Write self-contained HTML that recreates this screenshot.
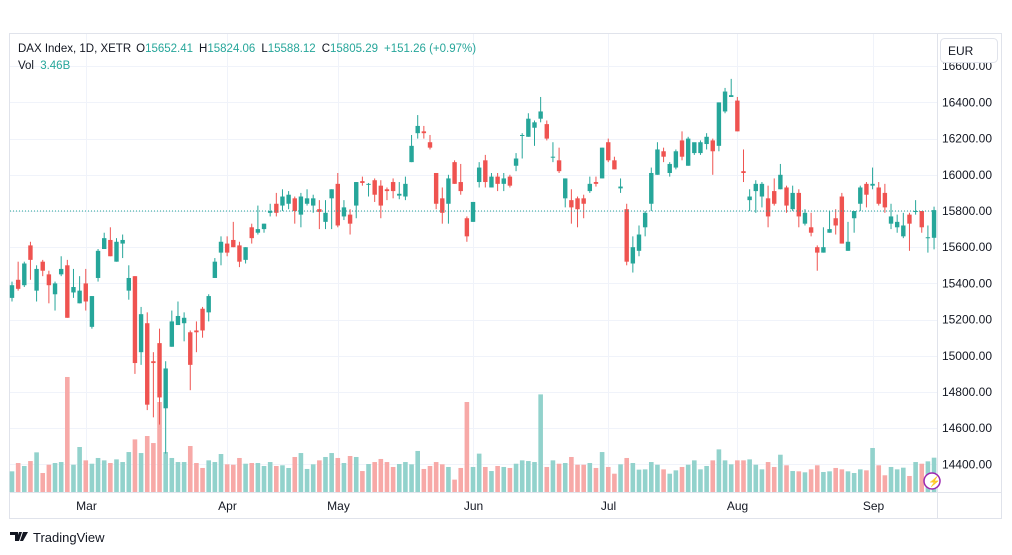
<!DOCTYPE html>
<html><head><meta charset="utf-8"><style>
body{margin:0;background:#fff;width:1012px;height:555px;overflow:hidden;font-family:"Liberation Sans",sans-serif;}
</style></head><body>
<svg id="chart" width="1012" height="555" xmlns="http://www.w3.org/2000/svg" style="position:absolute;left:0;top:0">
<rect x="9.5" y="33.5" width="992" height="485" fill="#fff" stroke="#e0e3eb"/>
<g id="grid"></g>
<g id="vol"></g>
<g id="candles"></g>
<line x1="10" x2="937" y1="211" y2="211" stroke="#26a69a" stroke-dasharray="1,2" stroke-width="1"/>
<line x1="937.5" x2="937.5" y1="34" y2="518" stroke="#e0e3eb"/>
<line x1="10" x2="1001" y1="492.5" y2="492.5" stroke="#e0e3eb"/>
<g id="yaxis"></g>
<g id="xaxis"></g>
<rect x="940.5" y="38.5" width="57" height="24" rx="4" fill="#fff" stroke="#e0e3eb"/>
<text x="948" y="55" font-size="12" fill="#131722">EUR</text>
<text x="18" y="52" font-size="11.5" fill="#131722">DAX Index, 1D, XETR<tspan dx="5">O</tspan><tspan fill="#26a69a">15652.41</tspan><tspan dx="6">H</tspan><tspan fill="#26a69a">15824.06</tspan><tspan dx="6">L</tspan><tspan fill="#26a69a">15588.12</tspan><tspan dx="6">C</tspan><tspan fill="#26a69a">15805.29</tspan><tspan dx="6" fill="#26a69a">+151.26 (+0.97%)</tspan></text>
<text x="18" y="69" font-size="11.5" fill="#131722">Vol <tspan dx="3" fill="#26a69a">3.46B</tspan></text>
<circle cx="932" cy="481" r="8" fill="#fff" stroke="#9c27b0" stroke-width="1.5"/>
<text x="928" y="485" font-size="10" fill="#9c27b0">⚡</text>
<g>
<path d="M10 532h8v9h-3v-6h-5z M19 532h3l-3 9h-3z M23 532h5l-5 9h-3z" fill="#131722"/>
<text x="33" y="542" font-size="13" fill="#131722">TradingView</text>
</g>
</svg>
<script>
const priceTicks=[14400,14600,14800,15000,15200,15400,15600,15800,16000,16200,16400,16600];
const monthLabels=["Mar","Apr","May","Jun","Jul","Aug","Sep"];
const monthIndex=[12,35,53,75,97,118,140];
const opens=[15320,15420,15390,15610,15360,15520,15450,15340,15450,15500,15350,15290,15400,15160,15430,15590,15640,15520,15620,15360,15440,15020,15180,14970,15070,14710,15050,15170,15180,15130,15140,15260,15240,15430,15570,15620,15640,15610,15530,15710,15680,15700,15790,15840,15830,15840,15870,15780,15840,15830,15810,15740,15870,15950,15770,15780,15830,15965,15945,15970,15940,15920,15960,15885,15880,16070,16230,16240,16180,16010,15870,15840,16070,15960,15760,15740,15960,16080,15930,15990,15950,15990,16050,16220,16210,16260,16310,16280,16095,16080,15870,15860,15870,15870,15910,15960,15980,16180,16080,15925,15810,15510,15580,15710,15840,16000,16130,16010,16040,16190,16050,16120,16120,16170,16190,16160,16350,16430,16410,16020,15860,15910,15880,15870,15910,15920,15930,15810,15900,15730,15710,15600,15570,15680,15760,15880,15580,15760,15840,15950,15940,15930,15900,15730,15710,15660,15780,15795,15800,15650,15652];
const highs=[15410,15520,15520,15630,15500,15530,15470,15410,15550,15530,15480,15440,15480,15330,15590,15680,15710,15650,15670,15500,15440,15270,15240,15020,15150,14970,15250,15300,15240,15140,15190,15270,15340,15540,15660,15660,15740,15630,15600,15730,15830,15730,15840,15900,15920,15910,15880,15900,15920,15890,15860,15860,15920,16010,15860,15810,15960,15990,15955,15980,15970,15930,15980,15960,15990,16220,16330,16270,16220,16010,15930,16000,16080,16060,15770,15850,16070,16110,16010,16010,16010,16000,16120,16230,16340,16300,16430,16300,16180,16150,15980,15920,15880,15890,15990,15990,16150,16200,16100,15980,15840,15660,15720,15800,16040,16180,16150,16070,16140,16240,16210,16170,16190,16230,16200,16400,16480,16530,16430,16140,15920,15970,15960,15940,15980,16060,15940,15940,15920,15810,15790,15610,15710,15800,15810,15900,15740,15800,15940,15960,16040,15960,15950,15840,15780,15790,15790,15860,15800,15720,15824];
const lows=[15300,15360,15380,15420,15300,15440,15290,15250,15440,15210,15320,15290,15250,15150,15410,15590,15550,15520,15540,15310,14900,14950,14700,14660,14620,14460,15050,15170,15080,14810,15020,15100,15190,15430,15500,15550,15600,15490,15510,15620,15670,15680,15770,15770,15800,15810,15730,15710,15830,15790,15700,15700,15700,15710,15750,15670,15760,15940,15880,15850,15760,15860,15870,15865,15860,16070,16200,16200,16140,15810,15730,15730,15950,15890,15630,15740,15930,15930,15930,15910,15910,15930,16020,16090,16210,16160,16290,16190,16070,16010,15820,15730,15710,15760,15900,15935,15980,16070,16030,15900,15500,15460,15550,15660,15800,16000,16070,15990,16030,16080,16050,16110,16110,16140,16000,16130,16340,16430,16240,15960,15800,15790,15820,15710,15830,15920,15790,15800,15710,15720,15660,15470,15570,15680,15670,15620,15580,15680,15800,15820,15920,15830,15790,15700,15680,15650,15580,15780,15680,15570,15588];
const closes=[15390,15370,15510,15530,15480,15470,15390,15400,15480,15210,15380,15360,15300,15330,15580,15650,15550,15630,15640,15430,14960,15230,14730,14960,14770,14930,15190,15220,15210,14950,15130,15140,15330,15520,15630,15570,15600,15520,15600,15650,15700,15730,15800,15790,15880,15890,15800,15880,15870,15870,15795,15790,15920,15720,15820,15730,15960,15955,15950,15890,15830,15910,15910,15895,15950,16160,16270,16230,16150,15840,15790,15980,15950,15910,15660,15850,16040,15960,15990,15950,15980,15940,16090,16220,16310,16290,16350,16200,16100,16020,15980,15820,15810,15840,15950,15950,16150,16080,16030,15935,15520,15600,15670,15790,16010,16140,16100,16060,16130,16100,16200,16180,16180,16210,16130,16400,16460,16440,16240,16010,15880,15950,15950,15770,15840,16000,15830,15900,15770,15790,15680,15570,15600,15700,15720,15620,15630,15800,15930,15890,15950,15840,15820,15770,15740,15720,15730,15800,15710,15655,15805];
const volumes=[2.09,2.93,2.63,3.13,4.01,1.92,2.76,2.93,3.03,11.63,2.76,4.55,3.20,2.86,3.44,3.20,2.93,3.30,3.03,4.04,5.32,3.94,5.66,4.95,9.10,4.04,3.44,3.03,3.03,4.65,2.93,2.43,3.20,3.03,3.84,2.80,2.76,3.44,2.86,2.93,2.93,2.63,3.03,2.63,2.70,2.43,3.54,3.94,2.33,2.80,3.20,3.54,3.94,3.44,2.93,3.64,3.54,2.12,2.83,3.03,3.34,3.03,2.53,2.83,3.03,2.80,4.15,2.33,2.63,3.03,2.80,2.53,1.25,2.43,9.10,2.53,3.88,2.53,2.12,2.63,2.53,2.43,2.86,3.20,3.13,3.03,9.87,2.53,3.20,2.86,2.93,3.54,2.76,2.76,2.93,2.43,4.04,2.53,1.85,2.80,3.44,2.93,2.26,2.29,3.03,2.76,2.29,1.85,2.19,2.53,2.76,3.20,2.29,2.63,3.20,4.31,3.20,2.80,3.20,3.20,3.30,2.76,2.29,3.03,2.53,3.77,2.70,2.12,2.09,1.99,2.29,2.70,2.02,2.09,2.43,2.29,2.09,1.92,2.29,2.19,4.45,2.70,1.69,2.53,2.29,2.46,1.62,3.03,2.86,3.10,3.47];

const NS="http://www.w3.org/2000/svg";
const x0=12, step=6.147;
function xScale(i){return x0+i*step;}
function yScale(p){return 211-(p-15800)*0.181;}
function vScale(v){return v*9.89;}
function mk(tag,attrs,parent){const e=document.createElementNS(NS,tag);for(const k in attrs)e.setAttribute(k,attrs[k]);parent.appendChild(e);return e;}
const grid=document.getElementById('grid'),yaxis=document.getElementById('yaxis'),xaxis=document.getElementById('xaxis');
const candles=document.getElementById('candles'),vol=document.getElementById('vol');
priceTicks.forEach(p=>{
  const y=Math.round(yScale(p))+0.5;
  const g=mk('line',{x1:10,x2:937,y1:y,y2:y,stroke:'#f0f3fa'},grid);
  
  
  const t=mk('text',{x:992,y:yScale(p)+4,'font-size':12,fill:'#131722','text-anchor':'end'},yaxis);
  
  
  t.textContent=p.toFixed(2);
});
monthLabels.forEach((m,k)=>{
  const x=Math.round(xScale(monthIndex[k]))+0.5;
  const g=mk('line',{x1:x,x2:x,y1:34,y2:492,stroke:'#f0f3fa'},grid);
  
  
  const t=mk('text',{x:x,y:510,'font-size':12,fill:'#131722','text-anchor':'middle'},xaxis);
  
  
  t.textContent=m;
});
closes.forEach((c,i)=>{
  const o=opens[i],h=highs[i],l=lows[i];
  const up=c>=o, col=up?'#26a69a':'#ef5350', vcol=up?'#92d2cc':'#f7a9a7';
  const x=xScale(i);
  const vh=vScale(volumes[i]);
  const vb=mk('rect',{x:x-2.3,y:492-vh,width:4.6,height:vh,fill:vcol},vol);
  
  
  const w=mk('line',{x1:x,x2:x,y1:yScale(h),y2:yScale(l),stroke:col,'stroke-width':1},candles);
  
  
  const top=yScale(Math.max(o,c)),bot=yScale(Math.min(o,c));
  const b=mk('rect',{x:x-2.2,y:top,width:4.4,height:Math.max(1,bot-top),fill:col},candles);
  
  
});
</script>
</body></html>
